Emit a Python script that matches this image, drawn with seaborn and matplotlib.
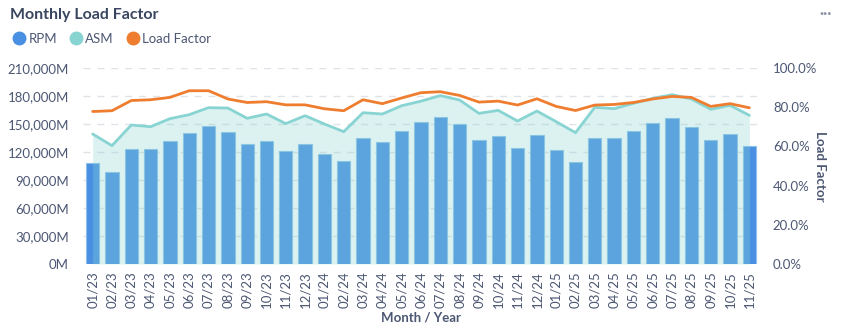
import numpy as np
import pandas as pd
import matplotlib
matplotlib.use("Agg")
import matplotlib.pyplot as plt
from matplotlib.lines import Line2D
from matplotlib.ticker import FuncFormatter, FixedLocator
import seaborn as sns

months = ["01/23", "02/23", "03/23", "04/23", "05/23", "06/23", "07/23", "08/23", "09/23",
          "10/23", "11/23", "12/23", "01/24", "02/24", "03/24", "04/24", "05/24", "06/24",
          "07/24", "08/24", "09/24", "10/24", "11/24", "12/24", "01/25", "02/25", "03/25",
          "04/25", "05/25", "06/25", "07/25", "08/25", "09/25", "10/25", "11/25"]
rpm = [108000, 98200, 123500, 122900, 131800, 140700, 148200, 141100, 128200,
       132100, 121400, 128200, 117500, 110400, 135300, 131000, 142800, 151800,
       157500, 150000, 132900, 137100, 124000, 138200, 122500, 109300, 135300,
       134600, 142800, 151100, 156100, 146800, 132500, 138900, 126400]
asm = [139300, 126800, 148900, 147100, 155700, 160000, 167500, 167100, 156100,
       160700, 150400, 158900, 150000, 141800, 162100, 160700, 169600, 174500,
       180400, 175700, 161400, 164600, 153200, 163900, 152500, 140700, 167900,
       166400, 172100, 177500, 181400, 176800, 165700, 170000, 159300]
load_factor = [77.8, 78.2, 83.4, 83.8, 85.0, 88.4, 88.4, 84.2, 82.4,
               82.8, 81.2, 81.2, 79.2, 78.2, 83.8, 81.8, 84.7, 87.4,
               87.9, 86.0, 82.6, 83.1, 81.1, 84.3, 80.4, 78.3, 81.1,
               81.4, 82.4, 84.2, 85.5, 85.0, 80.4, 81.8, 79.7]
left_ticks = [0, 30000, 60000, 90000, 120000, 150000, 180000, 210000]
right_ticks = [0, 20, 40, 60, 80, 100]

df = pd.DataFrame({"month": months, "rpm": rpm, "asm": asm, "lf": load_factor})
df["pos"] = np.arange(len(df))

sns.set_theme(style="white")
plt.rcParams["font.family"] = ["Lato", "DejaVu Sans"]

BLUE = "#4a90e2"
TEAL = "#88d4d2"
ORANGE = "#ef7d2f"
TXT = "#4c5773"
TITLE = "#3a4660"

W, H = 845, 334
fig = plt.figure(figsize=(W / 100, H / 100), dpi=100)
ax = fig.add_axes([83 / W, 1 - 264 / H, (759 - 83) / W, (264 - 68) / H])

sns.barplot(data=df, x="month", y="rpm", color=BLUE, saturation=1, width=0.69,
            edgecolor="#8cc0ea", linewidth=0.8, ax=ax, zorder=2)
ax.fill_between(df["pos"], 0, df["asm"], color=TEAL, alpha=0.3, linewidth=0, zorder=3)
sns.lineplot(data=df, x="pos", y="asm", color=TEAL, linewidth=2, ax=ax, zorder=4)

ax.set_xlim(-0.5, len(df) - 0.5)
ax.set_ylim(0, 210000)
ax.yaxis.set_major_locator(FixedLocator(left_ticks))
ax.yaxis.set_major_formatter(FuncFormatter(lambda v, p: f"{v:,.0f}M"))
ax.grid(axis="y", color="#dfe3e8", linestyle=(0, (5, 5)), linewidth=1, zorder=0)
ax.grid(axis="x", visible=False)
for s in ax.spines.values():
    s.set_visible(False)
ax.tick_params(axis="y", length=0, pad=10, labelsize=9.5, labelcolor=TXT)
ax.tick_params(axis="x", length=0, pad=5, labelsize=9.5, labelcolor=TXT, rotation=90)
ax.set_xticks(df["pos"])
ax.set_xticklabels(months)
ax.set_xlabel("Month / Year", fontsize=9.5, color=TXT, fontweight="bold", labelpad=3)
ax.set_ylabel("")

ax2 = ax.twinx()
sns.lineplot(data=df, x="pos", y="lf", color=ORANGE, linewidth=2, ax=ax2, zorder=5)
ax2.set_ylim(0, 100)
ax2.yaxis.set_major_locator(FixedLocator(right_ticks))
ax2.yaxis.set_major_formatter(FuncFormatter(lambda v, p: f"{v:.1f}%"))
ax2.grid(False)
for s in ax2.spines.values():
    s.set_visible(False)
ax2.tick_params(axis="y", length=0, pad=10, labelsize=9.5, labelcolor=TXT)
ax2.set_ylabel("Load Factor", fontsize=9.5, color=TXT, fontweight="bold",
               rotation=270, labelpad=6)
ax2.set_xlim(-0.5, len(df) - 0.5)

fig.text(10 / W, 1 - 15 / H, "Monthly Load Factor", fontsize=11.5, fontweight="bold",
         color=TITLE, va="center", ha="left")
fig.text(826 / W, 1 - 14 / H, "···", fontsize=11, color="#8a93a6", va="center", ha="center",
         fontweight="bold")

handles = [Line2D([], [], marker="o", linestyle="", markersize=9, color=c)
           for c in (BLUE, TEAL, ORANGE)]
fig.legend(handles, ["RPM", "ASM", "Load Factor"], loc="center left",
           bbox_to_anchor=(4 / W, 1 - 39 / H), ncol=3, frameon=False,
           fontsize=9.5, labelcolor=TXT, handletextpad=0.15, columnspacing=0.8,
           handlelength=1.2, borderpad=0)

fig.savefig("out.png", dpi=100)
